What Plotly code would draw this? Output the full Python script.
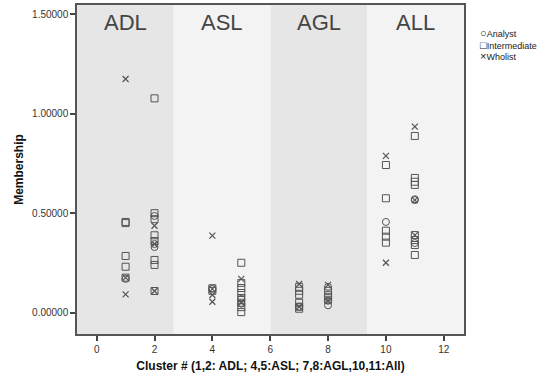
import plotly.graph_objects as go

# ---- data ----
analyst_x = [1, 2, 2, 2, 4, 5, 5, 7, 8, 8, 8, 10, 11, 11, 11]
analyst_y = [0.17, 0.486, 0.345, 0.33, 0.12, 0.07, 0.045, 0.03, 0.13, 0.06, 0.037, 0.456, 0.566, 0.57, 0.35]

inter_x = [1, 1, 1, 1, 1,
           2, 2, 2, 2, 2, 2, 2, 2,
           4, 4,
           5, 5, 5, 5, 5, 5, 5, 5,
           7, 7, 7, 7, 7, 7,
           8, 8, 8, 8,
           10, 10, 10, 10, 10,
           11, 11, 11, 11, 11, 11, 11, 11]
inter_y = [0.456, 0.45, 0.285, 0.231, 0.176,
           1.077, 0.50, 0.47, 0.389, 0.36, 0.265, 0.24, 0.109,
           0.123, 0.11,
           0.251, 0.15, 0.124, 0.099, 0.074, 0.05, 0.028, 0.003,
           0.13, 0.11, 0.09, 0.05, 0.03, 0.02,
           0.11, 0.09, 0.08, 0.065,
           0.742, 0.575, 0.412, 0.382, 0.352,
           0.888, 0.677, 0.658, 0.642, 0.39, 0.365, 0.34, 0.29]

whol_x = [1, 1, 1, 2, 2, 2, 4, 4, 4, 4, 5, 5, 7, 7, 8, 8, 10, 10, 11, 11, 11]
whol_y = [1.174, 0.176, 0.092, 0.437, 0.345, 0.109, 0.387, 0.12, 0.089, 0.055,
          0.17, 0.05, 0.144, 0.03, 0.14, 0.06, 0.788, 0.251, 0.935, 0.566, 0.39]

bands = ["ADL", "ASL", "AGL", "ALL"]
band_edges = [-0.68, 2.665, 6.01, 9.355, 12.7]
band_colors = ["#e6e6e6", "#f3f3f3", "#e6e6e6", "#f3f3f3"]

x_ticks = [0, 2, 4, 6, 8, 10, 12]
y_ticks = [0.0, 0.5, 1.0, 1.5]

legend_names = ["Analyst", "Intermediate", "Wholist"]
legend_glyphs = ["○", "□", "×"]

mcol = "#555555"
font = "Liberation Sans, Arial, sans-serif"

fig = go.Figure()
fig.add_trace(go.Scatter(x=analyst_x, y=analyst_y, mode="markers", name=legend_names[0],
                         marker=dict(symbol="circle-open", size=7, color=mcol, line=dict(width=1))))
fig.add_trace(go.Scatter(x=inter_x, y=inter_y, mode="markers", name=legend_names[1],
                         marker=dict(symbol="square-open", size=7, color=mcol, line=dict(width=1))))
fig.add_trace(go.Scatter(x=whol_x, y=whol_y, mode="markers", name=legend_names[2],
                         marker=dict(symbol="x-thin-open", size=6, color=mcol, line=dict(width=1.2))))

for i, b in enumerate(bands):
    fig.add_shape(type="rect", xref="x", yref="paper", x0=band_edges[i], x1=band_edges[i + 1],
                  y0=0, y1=1, fillcolor=band_colors[i], line=dict(width=0), layer="below")
    fig.add_annotation(x=(band_edges[i] + band_edges[i + 1]) / 2, xref="x", y=0.948, yref="paper",
                       text=b, showarrow=False, font=dict(size=22, color="#444444", family=font),
                       yanchor="middle")

# compact SPSS-style legend as one multi-line text block
legend_text = "<br>".join(f"<span style='font-size:11px'>{g}</span>{n}"
                          for g, n in zip(legend_glyphs, legend_names))
fig.add_annotation(x=1.036, xref="paper", y=0.881, yref="paper", text=legend_text,
                   showarrow=False, xanchor="left", yanchor="middle", align="left",
                   font=dict(size=9, color="#222222", family=font))

fig.update_layout(
    width=547, height=385,
    margin=dict(l=77, r=83, t=5, b=51, autoexpand=False),
    paper_bgcolor="white", plot_bgcolor="white",
    font=dict(family=font, size=10, color="#333333"),
    showlegend=False,
)
fig.update_xaxes(range=[band_edges[0], band_edges[-1]], tickvals=x_ticks, ticks="outside", ticklen=5,
                 tickwidth=1.5, tickcolor="#444444", showgrid=False, zeroline=False, automargin=False,
                 showline=True, linecolor="#555555", linewidth=1.5, mirror=True,
                 title=dict(text="<b>Cluster # (1,2: ADL; 4,5:ASL; 7,8:AGL,10,11:All)</b>",
                            font=dict(size=12, color="#111111"), standoff=8),
                 tickfont=dict(size=10, color="#333333"))
fig.update_yaxes(range=[-0.107, 1.546], tickvals=y_ticks, tickformat=".5f", ticks="outside", ticklen=5,
                 tickwidth=1.5, tickcolor="#444444", showgrid=False, zeroline=False, automargin=False,
                 showline=True, linecolor="#555555", linewidth=1.5, mirror=True,
                 title=dict(text="<b>Membership</b>", font=dict(size=12, color="#111111"), standoff=6),
                 tickfont=dict(size=10, color="#333333"))

fig.write_html("out.html", config={"displayModeBar": False},
               post_script="document.body.style.margin='0px';")
